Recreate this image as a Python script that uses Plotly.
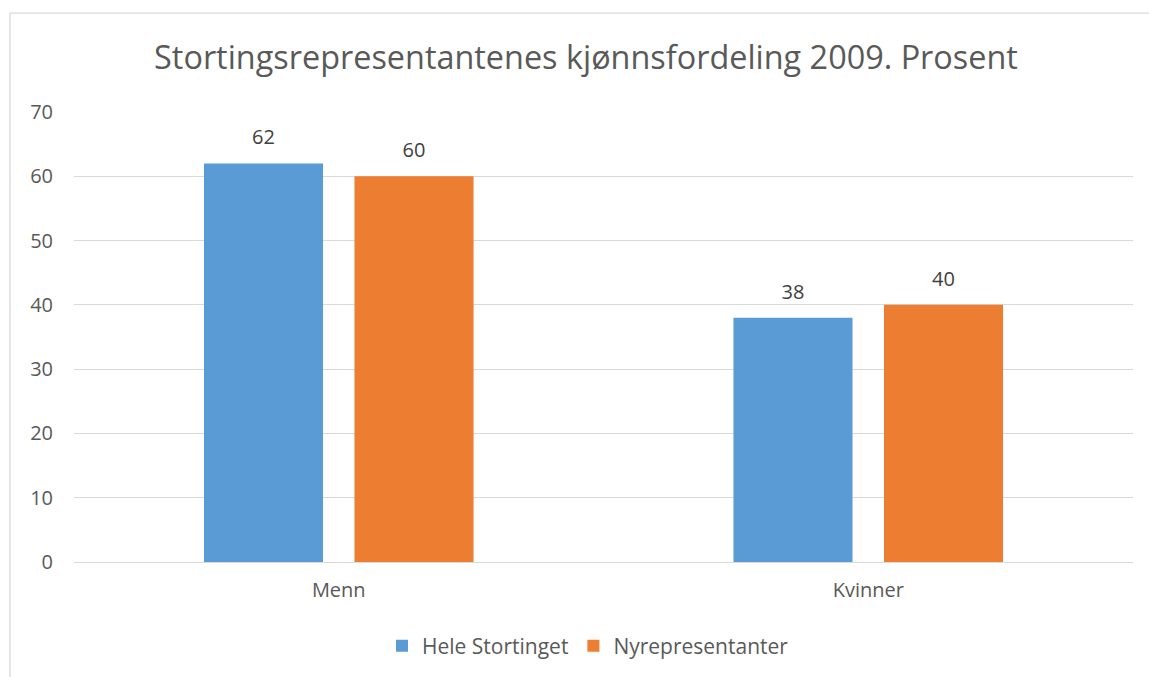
import plotly.graph_objects as go

categories = ["Menn", "Kvinner"]
hele_stortinget = [62, 38]
nyrepresentanter = [60, 40]
y_ticks = [0, 10, 20, 30, 40, 50, 60, 70]

FONT = "Open Sans"
TXT = "#595959"
LBL = "#404040"
BLUE = "#5B9BD5"
ORANGE = "#ED7D31"
BARGAP = 0.4315

fig = go.Figure()
for name, vals, col, grp in [("Hele Stortinget", hele_stortinget, BLUE, "a"),
                             ("Nyrepresentanter", nyrepresentanter, ORANGE, "b")]:
    fig.add_trace(go.Bar(
        name=name, x=categories, y=vals, offsetgroup=grp,
        marker=dict(color=col, line=dict(width=0)),
    ))
for vals, grp in [(hele_stortinget, "a"), (nyrepresentanter, "b")]:
    fig.add_trace(go.Scatter(
        x=categories, y=vals, offsetgroup=grp, mode="markers+text",
        text=[str(v) for v in vals], textposition="top center",
        marker=dict(size=21, color="rgba(0,0,0,0)"),
        textfont=dict(family=FONT, size=20, color=LBL),
        showlegend=False, hoverinfo="skip", cliponaxis=False,
    ))

W, H = 1149, 677
L, R, T, B = 74, 16, 112, 114
pw, ph = W - L - R, H - T - B

def px_x(p):
    return (p - L) / pw

def px_y(p):
    return (H - B - p) / ph

fig.update_layout(
    width=W, height=H,
    margin=dict(l=L, r=R, t=T, b=B),
    paper_bgcolor="white", plot_bgcolor="white",
    barmode="group", bargap=BARGAP, bargroupgap=0.209,
    scattermode="group", scattergap=BARGAP,
    title=dict(text="Stortingsrepresentantenes kjønnsfordeling 2009. Prosent",
               x=0.51, xanchor="center", y=1 - 58 / H, yanchor="middle",
               font=dict(family=FONT, size=32.4, color=TXT)),
    font=dict(family=FONT, color=TXT),
    xaxis=dict(showgrid=False, showline=False, ticks="", ticklabelstandoff=14,
               tickfont=dict(family=FONT, size=20, color=TXT)),
    yaxis=dict(range=[0, 70], tickvals=y_ticks, showgrid=True,
               gridcolor="#D9D9D9", gridwidth=1.3, zeroline=True,
               zerolinecolor="#D9D9D9", zerolinewidth=1.3,
               ticks="", ticklabelstandoff=20,
               tickfont=dict(family=FONT, size=20, color=TXT)),
    legend=dict(orientation="h", x=px_x(588), xanchor="center",
                y=px_y(646), yanchor="middle",
                font=dict(family=FONT, size=21, color=TXT),
                itemwidth=30, traceorder="normal"),
    showlegend=True,
    shapes=[dict(type="rect", xref="paper", yref="paper",
                 x0=px_x(10), x1=px_x(1160), y0=px_y(700), y1=px_y(13),
                 line=dict(color="#D9D9D9", width=1.3), fillcolor="rgba(0,0,0,0)",
                 layer="below")],
)

fig.write_html("out.html", config={"displayModeBar": False},
               post_script="document.body.style.margin='0';")
